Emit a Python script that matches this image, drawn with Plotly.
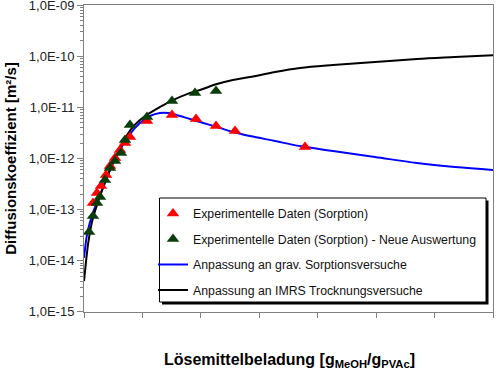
import plotly.graph_objects as go

# ---- data ----
x_red = [0.0154, 0.0222, 0.0291, 0.0377, 0.0445, 0.0531, 0.0616, 0.0702, 0.0787,
         0.1078, 0.1506, 0.1917, 0.2259, 0.2584, 0.3782]
d_red = [1.35e-13, 2.12e-13, 2.90e-13, 4.76e-13, 7.14e-13, 1.02e-12, 1.46e-12, 2.01e-12, 2.63e-12,
         5.41e-12, 7.08e-12, 5.91e-12, 4.31e-12, 3.45e-12, 1.68e-12]

x_green = [0.0086, 0.0154, 0.0222, 0.0274, 0.0359, 0.0445, 0.0531, 0.0633, 0.0702, 0.0787,
           0.1078, 0.1506, 0.1900, 0.2259]
d_green = [3.66e-14, 7.52e-14, 1.35e-13, 1.77e-13, 3.80e-13, 6.53e-13, 8.93e-13, 1.28e-12, 2.30e-12,
           4.52e-12, 6.47e-12, 1.33e-11, 1.9e-11, 2.1e-11]

x_blue_fit = [0.0, 0.0051, 0.0103, 0.0171, 0.0274, 0.0394, 0.0513, 0.0633, 0.0787, 0.0958, 0.1130,
              0.1301, 0.1438, 0.1643, 0.1985, 0.2276, 0.2550, 0.2841, 0.3269, 0.3697, 0.4262,
              0.4980, 0.5699, 0.6349, 0.7000]
d_blue_fit = [1.14e-14, 3.2e-14, 5.74e-14, 9.86e-14, 1.94e-13, 4.36e-13, 8.93e-13, 1.60e-12, 3.01e-12,
              4.94e-12, 6.78e-12, 7.74e-12, 7.74e-12, 6.78e-12, 5.16e-12, 4.13e-12, 3.30e-12,
              2.75e-12, 2.20e-12, 1.75e-12, 1.40e-12, 1.07e-12, 8.16e-13, 6.82e-13, 5.96e-13]

x_black_fit = [0.0, 0.0034, 0.0068, 0.0103, 0.0154, 0.0222, 0.0325, 0.0445, 0.0565, 0.0685, 0.0821,
               0.0958, 0.1095, 0.1301, 0.1523, 0.1763, 0.1985, 0.2276, 0.2550, 0.2841, 0.3269,
               0.3697, 0.4262, 0.4980, 0.5699, 0.6349, 0.7000]
d_black_fit = [4.0e-15, 9.5e-15, 2.04e-14, 3.66e-14, 6.9e-14, 1.23e-13, 2.65e-13, 5.96e-13, 1.22e-12,
               2.30e-12, 3.94e-12, 5.66e-12, 7.41e-12, 1.02e-11, 1.39e-11, 1.82e-11, 2.18e-11,
               2.86e-11, 3.42e-11, 3.92e-11, 4.91e-11, 5.87e-11, 6.71e-11, 7.69e-11, 8.81e-11,
               9.64e-11, 1.05e-10]

y_tick_vals = [1e-15, 1e-14, 1e-13, 1e-12, 1e-11, 1e-10, 1e-9]
y_tick_text = ["1,0E-15", "1,0E-14", "1,0E-13", "1,0E-12", "1,0E-11", "1,0E-10", "1,0E-09"]

names = ["Experimentelle Daten (Sorption)",
         "Experimentelle Daten (Sorption) - Neue Auswertung",
         "Anpassung an grav. Sorptionsversuche",
         "Anpassung an IMRS Trocknungsversuche"]

FONT = "Liberation Sans, Arial, sans-serif"

fig = go.Figure()
fig.add_trace(go.Scatter(x=x_blue_fit, y=d_blue_fit, mode="lines", line=dict(color="#0000ff", width=2, shape="spline"),
                         name=names[2], legendrank=3, legendgroup="c"))
fig.add_trace(go.Scatter(x=x_black_fit, y=d_black_fit, mode="lines", line=dict(color="#000000", width=2, shape="spline"),
                         name=names[3], legendrank=4, legendgroup="d"))
fig.add_trace(go.Scatter(x=x_red, y=d_red, mode="markers",
                         marker=dict(symbol="triangle-up", size=11, color="#ff0000"),
                         name=names[0], legendrank=1, legendgroup="a"))
fig.add_trace(go.Scatter(x=x_green, y=d_green, mode="markers",
                         marker=dict(symbol="triangle-up", size=11, color="#0b3d0b"),
                         name=names[1], legendrank=2, legendgroup="b"))

L, R, T, B = 84, 7, 5, 58
W, H = 500, 370
pw, ph = W - L - R, H - T - B

def px(xp):
    return (xp - L) / pw

def py(yp):
    return (H - B - yp) / ph

shapes = [
    dict(type="rect", xref="paper", yref="paper", x0=px(162), x1=px(488.5), y0=py(304.5), y1=py(200.5),
         fillcolor="black", line=dict(width=0), layer="above"),
    dict(type="rect", xref="paper", yref="paper", x0=px(159.5), x1=px(486), y0=py(302), y1=py(198),
         fillcolor="white", line=dict(color="black", width=1), layer="above"),
]

fig.update_layout(
    width=W, height=H,
    margin=dict(l=L, r=R, t=T, b=B, autoexpand=False),
    paper_bgcolor="white", plot_bgcolor="white",
    font=dict(family=FONT, size=13, color="#222222"),
    showlegend=True,
    legend=dict(x=px(153), y=py(199), xanchor="left", yanchor="top",
                bgcolor="rgba(0,0,0,0)", borderwidth=0,
                font=dict(family=FONT, size=12.3, color="#111111"),
                tracegroupgap=6.5, traceorder="grouped", itemwidth=30),
    shapes=shapes,
    xaxis=dict(range=[0, 0.7], dtick=0.1, tick0=0, showticklabels=False, ticks="outside", ticklen=5,
               tickcolor="#808080", showline=True, linecolor="#808080", linewidth=1, mirror=True,
               showgrid=False, zeroline=False, automargin=False),
    yaxis=dict(type="log", range=[-15.002, -8.998], tickvals=y_tick_vals, ticktext=y_tick_text,
               ticks="outside", ticklen=6, tickcolor="#808080", ticklabeloverflow="allow",
               minor=dict(ticks="outside", ticklen=3, tickcolor="#808080", dtick="D1", showgrid=False),
               showline=True, linecolor="#808080", linewidth=1, mirror=True,
               showgrid=False, zeroline=False, automargin=False,
               tickfont=dict(family=FONT, size=13, color="#222222"),
               title=dict(text="Diffusionskoeffizient [m²/s]", font=dict(family=FONT, size=15, color="black",
                                                                        weight="bold"), standoff=8)),
    annotations=[dict(text="Lösemittelbeladung [g<sub>MeOH</sub>/g<sub>PVAc</sub>]",
                      xref="paper", yref="paper", x=px(289.5), y=py(360), xanchor="center", yanchor="middle",
                      showarrow=False, font=dict(family=FONT, size=16, color="black", weight="bold"))],
)

fig.write_html("out.html", config={"displayModeBar": False},
               post_script="document.body.style.margin='0px';")
